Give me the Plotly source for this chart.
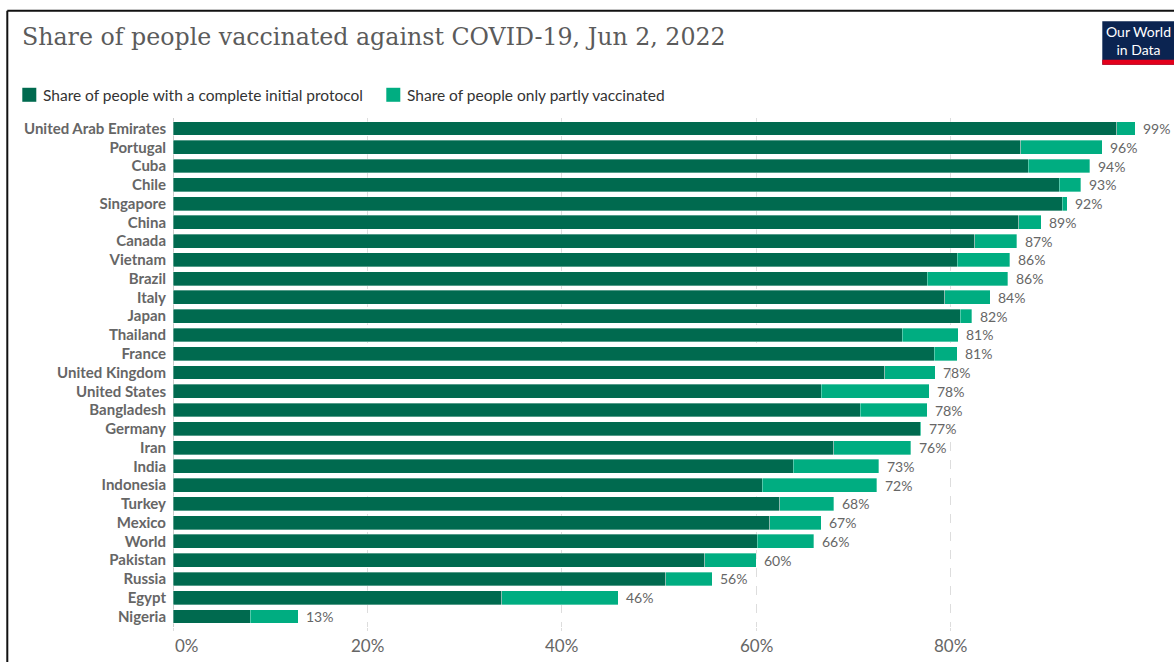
import plotly.graph_objects as go

countries = ["United Arab Emirates", "Portugal", "Cuba", "Chile", "Singapore", "China", "Canada",
             "Vietnam", "Brazil", "Italy", "Japan", "Thailand", "France", "United Kingdom",
             "United States", "Bangladesh", "Germany", "Iran", "India", "Indonesia", "Turkey",
             "Mexico", "World", "Pakistan", "Russia", "Egypt", "Nigeria"]
complete = [97.1, 87.2, 88.0, 91.2, 91.5, 87.0, 82.5, 80.7, 77.6, 79.4, 81.0, 75.0, 78.3, 73.2,
            66.7, 70.7, 76.9, 68.0, 63.8, 60.6, 62.4, 61.4, 60.1, 54.7, 50.7, 33.8, 7.95]
total = [99.0, 95.6, 94.3, 93.4, 92.0, 89.3, 86.8, 86.1, 85.9, 84.1, 82.2, 80.8, 80.7, 78.4,
         77.8, 77.6, 77.0, 75.9, 72.6, 72.4, 68.0, 66.7, 65.9, 60.0, 55.5, 45.8, 12.9]
partly = [round(t - c, 2) for t, c in zip(total, complete)]
labels = [f"{round(t):.0f}%" for t in total]
x_ticks = [0, 20, 40, 60, 80]
x_ticklabels = ["0%", "20%", "40%", "60%", "80%"]

DARK = "#006a4f"
LIGHT = "#00ad81"
TITLE = "Share of people vaccinated against COVID-19, Jun 2, 2022"
LEG1 = "Share of people with a complete initial protocol"
LEG2 = "Share of people only partly vaccinated"

W, H = 1174, 662
L, R, T, B = 172.7, 1144.7, 118.2, 626.8


def xp(px):
    return (px - L) / (R - L)


def yp(py):
    return (B - py) / (B - T)


fig = go.Figure()
fig.add_trace(go.Bar(y=countries, x=complete, orientation="h", name=LEG1,
                     marker=dict(color=DARK, line=dict(width=0.6, color="rgba(255,255,255,0.55)")),
                     hoverinfo="x+y"))
fig.add_trace(go.Bar(y=countries, x=partly, orientation="h", name=LEG2,
                     marker=dict(color=LIGHT, line=dict(width=0.6, color="rgba(255,255,255,0.55)")),
                     hoverinfo="x+y"))

annotations = []
for c, t, lab in zip(countries, total, labels):
    annotations.append(dict(x=t, y=c, xref="x", yref="y", text=lab, showarrow=False,
                            xanchor="left", yanchor="middle", xshift=6,
                            font=dict(family="Lato", size=14, color="#666666")))

# x tick labels (first one left-aligned as in the original)
for i, (v, lab) in enumerate(zip(x_ticks, x_ticklabels)):
    annotations.append(dict(x=v, y=yp(645), xref="x", yref="paper", text=lab, showarrow=False,
                            xanchor="left" if i == 0 else "center", yanchor="middle",
                            font=dict(family="Lato", size=17, color="#666666")))

# title
annotations.append(dict(x=xp(20), y=yp(37), xref="paper", yref="paper", text=TITLE,
                        showarrow=False, xanchor="left", yanchor="middle",
                        font=dict(family="DejaVu Serif", size=23.7, color="#5b5b5b")))
# legend texts
annotations.append(dict(x=xp(41), y=yp(95), xref="paper", yref="paper", text=LEG1,
                        showarrow=False, xanchor="left", yanchor="middle",
                        font=dict(family="Lato", size=15.5, color="#333333")))
annotations.append(dict(x=xp(405), y=yp(95), xref="paper", yref="paper", text=LEG2,
                        showarrow=False, xanchor="left", yanchor="middle",
                        font=dict(family="Lato", size=15.5, color="#333333")))
# logo text
annotations.append(dict(x=xp(1138), y=yp(41), xref="paper", yref="paper",
                        text="Our World<br>in Data", showarrow=False,
                        xanchor="center", yanchor="middle", align="center",
                        font=dict(family="Lato", size=14, color="white")))

shapes = [
    # frame
    dict(type="line", xref="paper", yref="paper", x0=xp(7), x1=xp(7), y0=yp(11), y1=yp(662),
         line=dict(color="#111111", width=2)),
    dict(type="line", xref="paper", yref="paper", x0=xp(7), x1=xp(1174), y0=yp(11), y1=yp(11),
         line=dict(color="#111111", width=2)),
    # legend squares
    dict(type="rect", xref="paper", yref="paper", x0=xp(22), x1=xp(36), y0=yp(102), y1=yp(88),
         fillcolor=DARK, line=dict(width=0)),
    dict(type="rect", xref="paper", yref="paper", x0=xp(386), x1=xp(400), y0=yp(102), y1=yp(88),
         fillcolor=LIGHT, line=dict(width=0)),
    # logo
    dict(type="rect", xref="paper", yref="paper", x0=xp(1102), x1=xp(1174), y0=yp(65), y1=yp(21.5),
         fillcolor="#0b2451", line=dict(width=0)),
    dict(type="rect", xref="paper", yref="paper", x0=xp(1102), x1=xp(1174), y0=yp(65), y1=yp(60),
         fillcolor="#e3001b", line=dict(width=0)),
]

fig.update_layout(
    width=W, height=H, barmode="stack", bargap=0.26,
    margin=dict(l=L, r=W - R, t=T, b=H - B, pad=0),
    paper_bgcolor="white", plot_bgcolor="white", showlegend=False,
    annotations=annotations, shapes=shapes,
    xaxis=dict(range=[0, 100], tickvals=x_ticks, showticklabels=False, automargin=False,
               showgrid=True, gridcolor="#dddddd", griddash="dash", gridwidth=1,
               zeroline=True, zerolinecolor="#cccccc", zerolinewidth=1,
               showline=False, ticks="outside", ticklen=3, tickcolor="#dddddd"),
    yaxis=dict(categoryorder="array", categoryarray=countries, autorange="reversed",
               showgrid=False, zeroline=False, showline=False, ticks="", automargin=False,
               ticklabelstandoff=6,
               tickfont=dict(family="Lato", size=15, color="#666666", weight="bold")),
)

fig.write_html("out.html")
